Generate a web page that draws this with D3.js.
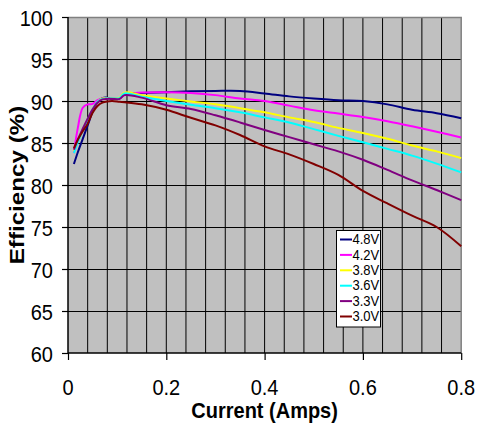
<!DOCTYPE html>
<html>
<head>
<meta charset="utf-8">
<script src="https://cdn.jsdelivr.net/npm/d3@7"></script>
<style>
  html, body { margin: 0; padding: 0; background: #fff; }
  svg { display: block; font-family: "Liberation Sans", Arial, sans-serif; }
</style>
</head>
<body>
<svg id="chart" width="479" height="426"></svg>
<script>
// Load current (A) at which each efficiency reading was taken
const currents = [0.012, 0.02, 0.03, 0.04, 0.05, 0.06, 0.07, 0.08, 0.09, 0.105, 0.115,
                  0.15, 0.2, 0.25, 0.3, 0.35, 0.4, 0.45, 0.5, 0.55, 0.6, 0.65, 0.7, 0.75, 0.8];

// Efficiency (%) per input voltage
const eff48 = [82.5, 83.9, 85.5, 87.1, 88.7, 89.9, 90.35, 90.4, 90.3, 90.3, 90.85,
               90.95, 91.05, 91.15, 91.2, 91.2, 90.9, 90.55, 90.3, 90.1, 90.0, 89.6, 88.95, 88.55, 87.95];
const eff42 = [83.8, 86.8, 89.2, 89.6, 89.65, 90.1, 90.3, 90.3, 90.3, 90.35, 90.7,
               91.0, 91.05, 90.95, 90.7, 90.3, 90.0, 89.45, 88.9, 88.5, 88.1, 87.6, 87.0, 86.35, 85.65];
const eff38 = [84.0, 85.2, 86.6, 87.8, 89.0, 89.9, 90.3, 90.3, 90.3, 90.4, 91.0,
               90.7, 90.3, 89.95, 89.6, 89.15, 88.65, 88.05, 87.5, 86.8, 86.2, 85.5, 84.7, 84.0, 83.2];
const eff36 = [83.8, 85.1, 86.5, 87.8, 89.0, 89.9, 90.25, 90.3, 90.3, 90.35, 90.9,
               90.5, 90.0, 89.55, 89.15, 88.65, 88.05, 87.45, 86.65, 85.85, 85.1, 84.3, 83.5, 82.55, 81.5];
const eff33 = [84.2, 85.4, 86.7, 87.9, 89.0, 89.8, 90.2, 90.25, 90.25, 90.25, 90.7,
               90.4, 89.5, 89.05, 88.3, 87.45, 86.55, 85.7, 84.85, 84.0, 83.0, 81.8, 80.55, 79.4, 78.2];
const eff30 = [84.4, 85.4, 86.4, 87.3, 88.6, 89.4, 89.8, 89.95, 90.0, 89.9, 89.85,
               89.6, 88.95, 88.0, 87.1, 85.95, 84.6, 83.65, 82.5, 81.2, 79.3, 77.8, 76.35, 75.0, 72.7];

const seriesNames = ["4.8V", "4.2V", "3.8V", "3.6V", "3.3V", "3.0V"];
const seriesValues = [eff48, eff42, eff38, eff36, eff33, eff30];
const seriesColors = ["#000080", "#ff00ff", "#ffff00", "#00ffff", "#800080", "#800000"];

const xTicks = [0, 0.2, 0.4, 0.6, 0.8];
const xTickLabels = ["0", "0.2", "0.4", "0.6", "0.8"];
const yTicks = [60, 65, 70, 75, 80, 85, 90, 95, 100];
const xTitle = "Current (Amps)";
const yTitle = "Efficiency (%)";

// Layout
const plot = { left: 68, top: 17, right: 461.2, bottom: 353 };
const STRETCH = 1.13;   // text is drawn slightly tall

const svg = d3.select("#chart");

const x = d3.scaleLinear().domain([0, 0.8]).range([plot.left, plot.right]);
const y = d3.scaleLinear().domain([60, 100]).range([plot.bottom, plot.top]);

// Plot background
svg.append("rect")
  .attr("x", plot.left).attr("y", plot.top)
  .attr("width", plot.right - plot.left).attr("height", plot.bottom - plot.top)
  .attr("fill", "#c0c0c0");

// Gridlines
const grid = svg.append("g").attr("stroke", "#000").attr("stroke-width", 1);
const vGrid = d3.range(1, 20).map(i => i * 0.04);
grid.selectAll("line.v").data(vGrid).join("line")
  .attr("class", "v")
  .attr("x1", d => x(d)).attr("x2", d => x(d))
  .attr("y1", plot.top).attr("y2", plot.bottom);
grid.selectAll("line.h").data(yTicks.filter(v => v > 60 && v < 100)).join("line")
  .attr("class", "h")
  .attr("x1", plot.left).attr("x2", plot.right)
  .attr("y1", d => Math.round(y(d)) + 0.5).attr("y2", d => Math.round(y(d)) + 0.5);

// Top and right frame
svg.append("path")
  .attr("d", `M${plot.left},${plot.top + 0.5}H${plot.right}V${plot.bottom}`)
  .attr("fill", "none").attr("stroke", "#808080").attr("stroke-width", 1.5);

// Axes (lines and ticks only; labels drawn below)
const yAxis = svg.append("g")
  .attr("transform", `translate(${plot.left},0)`)
  .call(d3.axisLeft(y).tickValues(yTicks).tickSize(6).tickFormat(""));
const xAxis = svg.append("g")
  .attr("transform", `translate(0,${plot.bottom})`)
  .call(d3.axisBottom(x).tickValues(xTicks).tickSize(7).tickFormat(""));
[yAxis, xAxis].forEach(a => {
  a.select(".domain").attr("stroke", "#000").attr("stroke-width", 1.5);
  a.selectAll(".tick line").attr("stroke", "#000").attr("stroke-width", 1.2);
});
xAxis.select(".domain").attr("d", `M${plot.left},0H${plot.right}`);
yAxis.select(".domain").attr("d", `M0,${plot.top}V${plot.bottom}`);

// Tick labels
svg.append("g").selectAll("text").data(yTicks).join("text")
  .attr("transform", d => `translate(53,${y(d) + 9}) scale(1,${STRETCH})`)
  .attr("text-anchor", "end")
  .attr("font-size", 20)
  .attr("fill", "#000")
  .text(d => d);
svg.append("g").selectAll("text").data(xTicks).join("text")
  .attr("transform", d => `translate(${x(d)},394.5) scale(1,${STRETCH})`)
  .attr("text-anchor", "middle")
  .attr("font-size", 20)
  .attr("fill", "#000")
  .text((d, i) => xTickLabels[i]);

// Axis titles
svg.append("text")
  .attr("transform", `translate(${(plot.left + plot.right) / 2},417.5) scale(1,${STRETCH})`)
  .attr("text-anchor", "middle")
  .attr("font-size", 20).attr("font-weight", "bold")
  .text(xTitle);
svg.append("text")
  .attr("transform", `translate(24,${(plot.top + plot.bottom) / 2}) rotate(-90) scale(1.21,1)`)
  .attr("text-anchor", "middle")
  .attr("font-size", 20).attr("font-weight", "bold")
  .text(yTitle);

// Efficiency curves
const line = d3.line()
  .x((d, i) => x(currents[i]))
  .y(d => y(d))
  .curve(d3.curveCatmullRom.alpha(0.5));

svg.append("g").selectAll("path").data(seriesValues).join("path")
  .attr("d", d => line(d))
  .attr("fill", "none")
  .attr("stroke", (d, i) => seriesColors[i])
  .attr("stroke-width", 2)
  .attr("stroke-linejoin", "round");

// Legend
const legend = svg.append("g").attr("transform", "translate(336.5,230.5)");
legend.append("rect")
  .attr("width", 44).attr("height", 96.5)
  .attr("fill", "#fff").attr("stroke", "#000").attr("stroke-width", 1);
const rows = legend.selectAll("g").data(seriesNames).join("g")
  .attr("transform", (d, i) => `translate(0,${9 + i * 15.4})`);
rows.append("line")
  .attr("x1", 3.5).attr("x2", 15.5)
  .attr("stroke", (d, i) => seriesColors[i]).attr("stroke-width", 2);
rows.append("text")
  .attr("transform", `translate(16,4.6) scale(1,${STRETCH})`)
  .attr("font-size", 13)
  .attr("fill", "#000")
  .text(d => d);
</script>
</body>
</html>
